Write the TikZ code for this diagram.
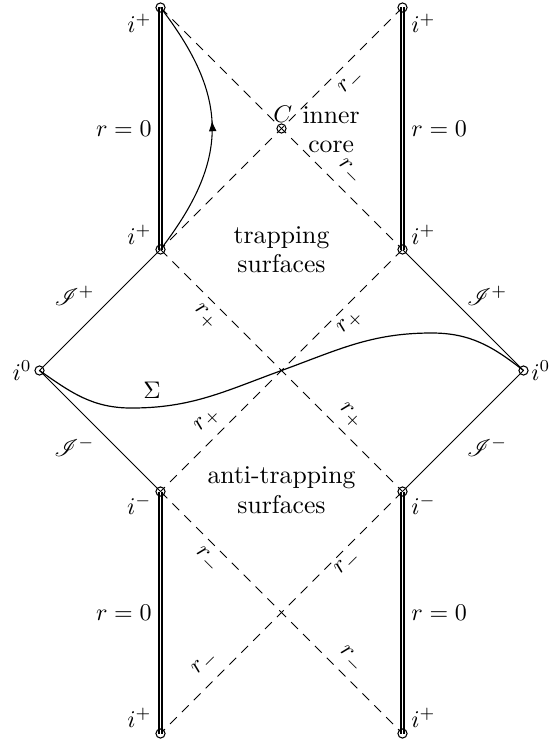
\documentclass[tikz,border=0pt]{standalone}
\usepackage{mathrsfs}
\usetikzlibrary{decorations.markings,arrows.meta}
\begin{document}
\begin{tikzpicture}[x=50.42pt,y=50.42pt,
  sing/.style={double,line width=0.85pt,double distance=0.65pt},
  hz/.style={line width=0.4pt,dash pattern=on 4pt off 3pt},
  scri/.style={line width=0.4pt},
  dot/.style={draw,circle,line width=0.45pt,inner sep=0pt,minimum size=3.8pt},
  lab/.style={inner sep=0pt},
  txt/.style={inner sep=0pt,align=center,font=\fontsize{10.7}{12.2}\selectfont}]
\useasboundingbox (-2.3264,-3.070) rectangle (2.2603,3.062);
% points
\coordinate (tl1) at (-1,3);
\coordinate (tl0) at (-1,1);
\coordinate (tr1) at (1,3);
\coordinate (tr0) at (1,1);
\coordinate (C) at (0,2);
\coordinate (il) at (-2,0);
\coordinate (ir) at (2,0);
\coordinate (O) at (0,0);
\coordinate (bl0) at (-1,-1);
\coordinate (br0) at (1,-1);
\coordinate (bl1) at (-1,-3);
\coordinate (br1) at (1,-3);
\coordinate (B) at (0,-2);
\coordinate (smin) at (-1.24,-0.31);
\coordinate (smax) at (1.24,0.31);
% horizons
\draw[hz] (tl1) -- (C) -- (tr0);
\draw[hz] (tr1) -- (C) -- (tl0);
\draw[hz] (tl0) -- (O) -- (br0);
\draw[hz] (tr0) -- (O) -- (bl0);
\draw[hz] (bl0) -- (B) -- (br1);
\draw[hz] (br0) -- (B) -- (bl1);
% scri
\draw[scri] (tl0) -- (il) -- (bl0);
\draw[scri] (tr0) -- (ir) -- (br0);
% singularities
\draw[sing] (tl0) -- (tl1);
\draw[sing] (tr0) -- (tr1);
\draw[sing] (bl0) -- (bl1);
\draw[sing] (br0) -- (br1);
% timelike curve
\draw[line width=0.45pt,postaction={decorate},
  decoration={markings,mark=at position 0.53 with {\arrow{Latex[length=4.5pt,width=3.2pt]}}}]
  (tl0) .. controls (-0.43,1.74) and (-0.43,2.26) .. (tl1);
% Sigma
\draw[line width=0.5pt] (il) to[out=-35,in=180] (smin) to[out=0,in=200] (O)
  to[out=20,in=180] (smax) to[out=0,in=142] (ir);
% dots
\foreach \p in {tl1,tl0,tr1,tr0,C,il,ir,bl0,br0,bl1,br1}
  \node[dot] (d\p) at (\p) {};
% labels
\node[lab,anchor=east] (a1) at (-1.07,2.87) {$i^+$};
\node[lab,anchor=east] (a2) at (-1.07,2) {$r=0$};
\node[lab,anchor=east] (a3) at (-1.07,1.12) {$i^+$};
\node[lab,anchor=west] (b1) at (1.07,2.87) {$i^+$};
\node[lab,anchor=west] (b2) at (1.07,2) {$r=0$};
\node[lab,anchor=west] (b3) at (1.07,1.12) {$i^+$};
\node[lab,anchor=east] (a4) at (-1.07,-1.11) {$i^-$};
\node[lab,anchor=east] (a5) at (-1.07,-2) {$r=0$};
\node[lab,anchor=east] (a6) at (-1.07,-2.87) {$i^+$};
\node[lab,anchor=west] (b4) at (1.07,-1.11) {$i^-$};
\node[lab,anchor=west] (b5) at (1.07,-2) {$r=0$};
\node[lab,anchor=west] (b6) at (1.07,-2.87) {$i^+$};
\node[lab,anchor=east] (i0l) at (-2.06,0) {$i^0$};
\node[lab,anchor=west] (i0r) at (2.06,0) {$i^0$};
\node[lab] (Clab) at (0.01,2.12) {$C$};
\node[txt] (core) at (0.41,1.99) {inner\\core};
\node[txt] (trap) at (0,1) {trapping\\surfaces};
\node[txt] (atrap) at (0,-0.99) {anti-trapping\\surfaces};
\node[lab] (sp1) at (-1.71,0.62) {$\mathscr{I}^+$};
\node[lab] (sp2) at (1.70,0.62) {$\mathscr{I}^+$};
\node[lab] (sm1) at (-1.71,-0.63) {$\mathscr{I}^-$};
\node[lab] (sm2) at (1.70,-0.63) {$\mathscr{I}^-$};
\node[lab] (sig) at (-1.07,-0.16) {$\Sigma$};
% horizon labels
\node[lab,rotate=45] (h1) at (0.58,2.38) {$r_-$};
\node[lab,rotate=-45] (h2) at (0.56,1.64) {$r_-$};
\node[lab,rotate=-45] (h3) at (-0.63,0.44) {$r_+$};
\node[lab,rotate=45] (h4) at (0.57,0.40) {$r_+$};
\node[lab,rotate=45] (h5) at (-0.61,-0.41) {$r_+$};
\node[lab,rotate=-45] (h6) at (0.57,-0.38) {$r_+$};
\node[lab,rotate=-45] (h7) at (-0.62,-1.57) {$r_-$};
\node[lab,rotate=45] (h8) at (0.55,-1.59) {$r_-$};
\node[lab,rotate=45] (h9) at (-0.63,-2.42) {$r_-$};
\node[lab,rotate=-45] (h10) at (0.57,-2.39) {$r_-$};
\end{tikzpicture}
\end{document}
